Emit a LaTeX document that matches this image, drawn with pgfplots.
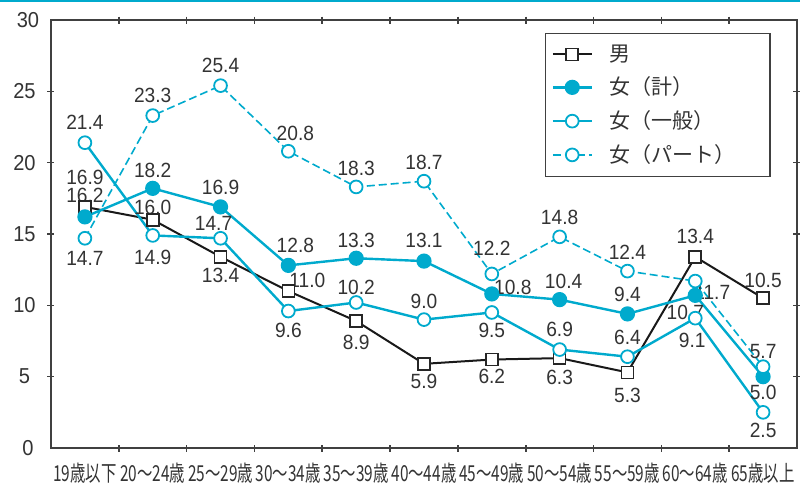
\documentclass[border=0pt]{standalone}
\usepackage{fontspec}
\setmainfont[FakeStretch=0.93]{Liberation Sans}
\newfontfamily\jp[FakeStretch=0.7]{Noto Sans CJK JP}
\newfontfamily\jpn{Noto Sans CJK JP}
\usepackage{pgfplots}
\pgfplotsset{compat=1.18}
\definecolor{cy}{RGB}{0,170,205}
\definecolor{ax}{RGB}{64,64,64}
\definecolor{tx}{RGB}{51,51,51}
\tikzset{lbl/.style={font=\fontsize{10.3}{12}\selectfont, text=tx, inner sep=0pt}}
\newcommand\lab[4]{\node[lbl,xshift=#3*0.5pt,yshift=#4*0.5pt] at (axis cs:#1,#2) {#2};}
\begin{document}
\begin{tikzpicture}
\useasboundingbox (-25.5pt,-20pt) rectangle (374.5pt,224pt);
\fill[cy] (-25.5pt,223pt) rectangle (374.5pt,224pt);
\begin{axis}[
  scale only axis, width=373pt, height=214pt,
  at={(0,0)}, anchor=south west,
  xmin=-0.5, xmax=10.5, ymin=0, ymax=30,
  clip=false,
  axis line style={ax, line width=1pt},
  tick style={ax, line width=0.8pt},
  tick align=center,
  xtick={0,...,10},
  xticklabels={19歳以下,20〜24歳,25〜29歳,30〜34歳,35〜39歳,40〜44歳,45〜49歳,50〜54歳,55〜59歳,60〜64歳,65歳以上},
  major x tick style={draw=none},
  minor xtick={0.5,1.5,...,9.5},
  minor tick length=3.5pt,
  ytick={5,10,15,20,25},
  major tick length=3.5pt,
  extra y ticks={0,30},
  extra y tick style={major tick length=0pt},
  xticklabel style={anchor=center, yshift=-11pt, font=\jp\fontsize{11}{12}\selectfont, text=tx},
  yticklabel style={anchor=center, xshift=-11.5pt, font=\fontsize{10.8}{12}\selectfont, text=tx},
  /pgf/number format/assume math mode=true,
  legend style={at={(0.662,0.970)}, anchor=north west, draw=ax, line width=0.7pt,
    inner xsep=3pt, inner ysep=3.5pt, row sep=2.4pt,
    font=\jpn\fontsize{10.5}{12}\selectfont, text=tx, cells={anchor=west},
    /tikz/every odd column/.append style={column sep=6.5pt}},
  legend image code/.code={
    \draw[#1,mark=none] (0pt,0pt) -- (19.5pt,0pt);
    \draw[#1,only marks] plot coordinates {(9.75pt,0pt)};
  },
]
\addplot[black!90, line width=1pt, mark=square*, mark size=3pt,
  mark options={fill=white, draw=black!85, line width=0.8pt, solid}]
  coordinates {(0,16.9)(1,16.0)(2,13.4)(3,11.0)(4,8.9)(5,5.9)(6,6.2)(7,6.3)(8,5.3)(9,13.4)(10,10.5)};
\addlegendentry{\makebox[75pt][l]{男}}
\addplot[cy, line width=1.2pt, mark=*, mark size=3.2pt,
  mark options={fill=cy, draw=cy, solid}]
  coordinates {(0,16.2)(1,18.2)(2,16.9)(3,12.8)(4,13.3)(5,13.1)(6,10.8)(7,10.4)(8,9.4)(9,10.7)(10,5.0)};
\addlegendentry{\makebox[75pt][l]{女（計）}}
\addplot[cy, line width=1.2pt, mark=*, mark size=3.2pt,
  mark options={fill=white, draw=cy, line width=0.9pt, solid}]
  coordinates {(0,21.4)(1,14.9)(2,14.7)(3,9.6)(4,10.2)(5,9.0)(6,9.5)(7,6.9)(8,6.4)(9,9.1)(10,2.5)};
\addlegendentry{\makebox[75pt][l]{女（一般）}}
\addplot[cy, line width=0.8pt, dash pattern=on 4pt off 2pt, mark=*, mark size=3.2pt,
  mark options={fill=white, draw=cy, line width=0.9pt, solid}]
  coordinates {(0,14.7)(1,23.3)(2,25.4)(3,20.8)(4,18.3)(5,18.7)(6,12.2)(7,14.8)(8,12.4)(9,11.7)(10,5.7)};
\addlegendentry{\makebox[75pt][l]{女（パート）}}
% labels: 男
\lab{0}{16.9}{0}{29}
\lab{1}{16.0}{0}{12}
\lab{2}{13.4}{0}{-19}
\lab{3}{11.0}{19}{11}
\lab{4}{8.9}{0}{-21}
\lab{5}{5.9}{0}{-18}
\lab{6}{6.2}{0}{-17}
\lab{7}{6.3}{0}{-19}
\lab{8}{5.3}{0}{-23}
\lab{9}{13.4}{0}{20}
\lab{10}{10.5}{0}{18}
% 女計
\lab{0}{16.2}{0}{21}
\lab{1}{18.2}{0}{18}
\lab{2}{16.9}{0}{19}
\lab{3}{12.8}{7}{20}
\lab{4}{13.3}{0}{18}
\lab{5}{13.1}{0}{21}
\lab{6}{10.8}{21}{7}
\lab{7}{10.4}{4}{18}
\lab{8}{9.4}{0}{19}
\lab{9}{10.7}{-10}{-17}
\lab{10}{5.0}{0}{-16}
% 女一般
\lab{0}{21.4}{0}{20}
\lab{1}{14.9}{0}{-22}
\lab{2}{14.7}{-7}{15}
\lab{3}{9.6}{0}{-19}
\lab{4}{10.2}{0}{15}
\lab{5}{9.0}{0}{18}
\lab{6}{9.5}{0}{-18}
\lab{7}{6.9}{0}{20}
\lab{8}{6.4}{0}{19}
\lab{9}{9.1}{-3}{-22}
\lab{10}{2.5}{0}{-18}
% 女パート
\lab{0}{14.7}{0}{-20}
\lab{1}{23.3}{0}{20}
\lab{2}{25.4}{0}{20}
\lab{3}{20.8}{7}{18}
\lab{4}{18.3}{0}{19}
\lab{5}{18.7}{0}{19}
\lab{6}{12.2}{0}{26}
\lab{7}{14.8}{0}{19}
\lab{8}{12.4}{0}{19}
\lab{9}{11.7}{17}{-11}
\lab{10}{5.7}{0}{15}
\end{axis}
\end{tikzpicture}
\end{document}
